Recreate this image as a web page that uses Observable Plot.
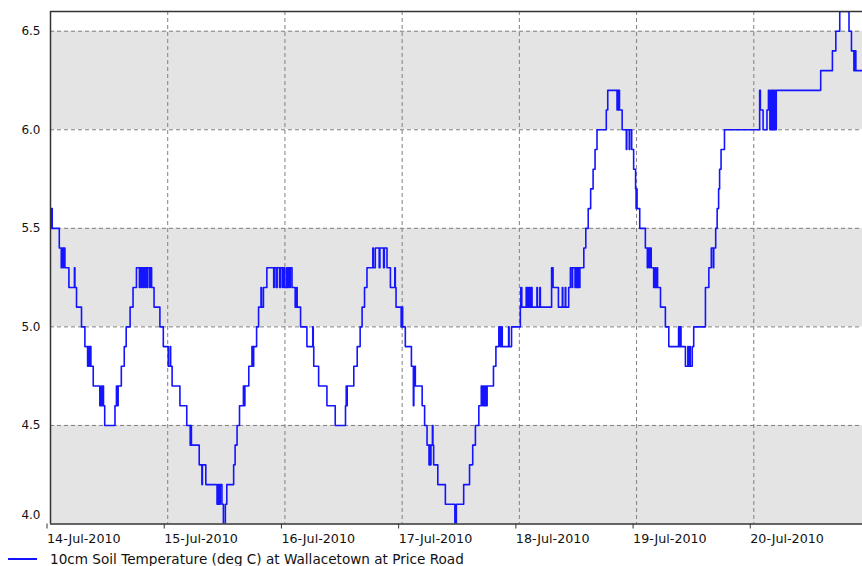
<!DOCTYPE html>
<html><head><meta charset="utf-8">
<script src="https://cdn.jsdelivr.net/npm/d3@7"></script>
<script src="https://cdn.jsdelivr.net/npm/@observablehq/plot@0.6"></script>
<style>
html,body{margin:0;padding:0;background:#fff;}
body{font-family:"DejaVu Sans",sans-serif;width:862px;}
#legend{position:relative;height:17px;width:862px;font-size:13.6px;color:#111;}
#legend .sw{position:absolute;left:8px;top:9px;width:29px;height:2px;background:#1414ff;}
#legend .lb{position:absolute;left:50px;top:2px;line-height:17px;white-space:nowrap;}
</style></head>
<body>
<div id="chart"></div>
<div id="legend"><span class="sw"></span><span class="lb" id="lb"></span></div>
<script>
// hours after 14-Jul-2010 00:00 at which the reading changes, and the reading (deg C)
const hoursSinceStart = [
0,0.1,0.2,0.35,1.8,2.2,2.35,2.6,2.7,2.95,3.77,4.9,5.0,5.33,6.35,7.04,7.6,7.75,8.0,8.1,8.27,8.75,
10.1,10.4,10.5,10.75,10.85,11.1,13.2,13.5,13.7,13.85,14.5,15.1,15.5,16.3,16.9,17.6,18.2,18.3,18.6,18.7,
19.0,19.1,19.4,19.5,19.8,19.9,20.3,20.4,20.7,21.2,22.4,23.1,24.1,24.5,24.6,24.9,26.5,27.9,28.6,28.7,28.85,
30.45,31.0,31.1,31.8,34.1,34.4,34.6,34.75,35.1,35.4,35.8,36.1,37.5,37.8,38.2,38.7,39.5,39.7,39.8,40.6,
41.25,41.5,41.6,42.2,42.6,43.1,43.2,43.6,44.3,45.7,45.8,46.2,46.4,46.9,47.1,47.5,47.6,47.9,48.3,48.5,48.7,
49.0,49.1,49.45,50.1,50.4,50.5,51.2,52.5,53.7,53.8,53.9,54.9,56.6,58.3,60.4,60.55,60.65,60.75,62.1,62.8,
63.4,63.8,64.3,64.8,66.0,66.1,66.5,67.3,67.45,68.2,68.35,68.9,69.6,70.5,70.6,70.75,71.8,72.0,72.1,72.65,
73.9,74.3,74.4,74.6,74.7,76.1,76.6,77.1,77.5,77.6,77.8,77.9,78.2,78.3,78.45,79.3,80.85,82.8,83.1,84.6,
85.8,86.45,87.0,87.7,88.2,88.5,88.7,88.9,89.1,89.25,89.4,90.7,91.2,91.8,92.1,92.4,92.5,93.8,93.9,94.4,
96.2,96.3,96.5,97.4,97.5,97.7,97.8,98.0,98.2,98.4,98.6,99.6,99.7,100.2,100.3,102.6,102.9,104.0,104.8,
104.9,105.4,105.5,106.1,106.45,106.8,106.9,107.4,107.5,107.7,107.8,108.0,108.1,108.3,108.4,109.2,109.6,
110.1,110.6,111.1,111.5,111.9,113.8,114.1,116.0,116.1,116.25,116.35,116.5,117.05,117.9,118.0,118.5,
118.6,119.0,119.4,119.8,119.9,120.0,120.1,120.65,121.8,122.2,122.3,122.6,122.7,123.0,123.5,123.8,123.9,
124.2,124.3,124.9,125.9,126.6,128.6,128.8,128.9,129.1,130.0,130.5,130.6,130.9,131.0,131.4,131.7,134.1,
134.8,135.3,135.7,135.8,136.2,136.5,136.8,137.0,137.3,138.0,145.2,145.35,145.9,146.7,147.0,147.3,147.6,
147.7,147.8,147.9,148.0,148.1,148.3,148.4,148.6,157.7,160.1,160.8,161.6,163.5,164.0,164.5,164.6,164.7,
164.8,164.9,166.3
];
const tempC = [
5.6,5.5,5.6,5.5,5.4,5.3,5.4,5.3,5.4,5.3,5.2,5.3,5.2,5.1,5.0,4.9,4.8,4.9,4.8,4.9,4.8,4.7,
4.6,4.7,4.6,4.7,4.6,4.5,4.6,4.7,4.6,4.7,4.8,4.9,5.0,5.1,5.2,5.3,5.2,5.3,5.2,5.3,
5.2,5.3,5.2,5.3,5.2,5.3,5.2,5.3,5.2,5.1,5.0,4.9,4.8,4.9,4.8,4.7,4.6,4.5,4.4,4.5,4.4,
4.3,4.2,4.3,4.2,4.1,4.2,4.1,4.2,4.1,4.0,4.1,4.2,4.3,4.4,4.5,4.6,4.7,4.6,4.7,4.8,
4.9,4.8,4.9,5.0,5.1,5.2,5.1,5.2,5.3,5.2,5.3,5.2,5.3,5.2,5.3,5.2,5.3,5.2,5.3,5.2,5.3,
5.2,5.3,5.2,5.1,5.2,5.1,5.0,4.9,5.0,4.9,4.8,4.7,4.6,4.5,4.6,4.7,4.6,4.7,4.8,4.9,
5.0,5.1,5.2,5.3,5.4,5.3,5.4,5.3,5.4,5.3,5.4,5.3,5.2,5.3,5.2,5.1,5.0,5.1,5.0,4.9,
4.8,4.6,4.7,4.8,4.7,4.6,4.5,4.4,4.3,4.4,4.3,4.4,4.5,4.4,4.3,4.2,4.1,4.0,4.1,4.2,
4.3,4.4,4.5,4.6,4.7,4.6,4.7,4.6,4.7,4.6,4.7,4.8,4.9,5.0,4.9,5.0,4.9,5.0,4.9,5.0,
5.1,5.2,5.1,5.2,5.1,5.2,5.1,5.2,5.1,5.2,5.1,5.2,5.1,5.2,5.1,5.3,5.2,5.1,5.2,
5.1,5.2,5.1,5.2,5.3,5.2,5.3,5.2,5.3,5.2,5.3,5.2,5.3,5.2,5.3,5.4,5.5,
5.6,5.7,5.8,5.9,6.0,6.1,6.2,6.1,6.2,6.1,6.2,6.1,6.0,5.9,6.0,5.9,
6.0,5.9,5.8,5.7,5.6,5.7,5.6,5.5,5.4,5.3,5.4,5.3,5.4,5.3,5.2,5.3,5.2,
5.3,5.2,5.1,5.0,4.9,5.0,4.9,5.0,4.9,4.8,4.9,4.8,4.9,4.8,4.9,5.0,5.2,
5.3,5.4,5.3,5.4,5.5,5.6,5.7,5.8,5.9,6.0,6.2,6.1,6.0,6.1,6.2,6.0,6.2,
6.0,6.2,6.0,6.2,6.0,6.2,6.0,6.2,6.3,6.4,6.5,6.6,6.5,6.4,6.3,6.4,6.3,
6.4,6.3,6.3
];
const dayLabels = ["14-Jul-2010","15-Jul-2010","16-Jul-2010","17-Jul-2010","18-Jul-2010","19-Jul-2010","20-Jul-2010"];
const yTicks = [4.0, 4.5, 5.0, 5.5, 6.0, 6.5];
const bandLows = [4.0, 5.0, 6.0];
const bandHighs = [4.5, 5.5, 6.5];
const seriesName = "10cm Soil Temperature (deg C) at Wallacetown at Price Road";
const yDomain = [4.0, 6.6];
const endHours = 166.26;

const start = Date.UTC(2010, 6, 14);
const data = hoursSinceStart.map((h, i) => ({t: new Date(start + h * 3600e3), v: tempC[i]}));
const days = dayLabels.map((_, i) => new Date(start + i * 86400e3));
const bands = bandLows.map((lo, i) => ({lo, hi: bandHighs[i]}));
const xDomain = [new Date(start), new Date(start + endHours * 3600e3)];
const labelOf = d => dayLabels[days.findIndex(t => +t === +d)];

const grid = {stroke: "#808080", strokeOpacity: 1, strokeDasharray: "4,3", strokeWidth: 1};

const chart = Plot.plot({
  width: 862, height: 549,
  marginLeft: 50, marginRight: 0, marginTop: 11, marginBottom: 25.5,
  x: {type: "utc", domain: xDomain},
  y: {domain: yDomain},
  style: {fontFamily: "DejaVu Sans", fontSize: "12px", color: "#111", background: "#fff", overflow: "visible"},
  marks: [
    Plot.rect(bands, {y1: "lo", y2: "hi", fill: "#e4e4e4"}),
    Plot.gridY(yTicks.slice(1), grid),
    Plot.gridX(days.slice(1), grid),
    Plot.lineY(data, {x: "t", y: "v", curve: "step-after", stroke: "#1414ff", strokeWidth: 1.6, clip: true}),
    Plot.ruleY([yDomain[1]], {stroke: "#333", strokeWidth: 1.5}),
    Plot.ruleY([yDomain[0]], {stroke: "#333", strokeWidth: 1.5}),
    Plot.ruleX([xDomain[0]], {stroke: "#333", strokeWidth: 1.5}),
    Plot.axisX(days, {tickSize: 5, tickPadding: 5, textAnchor: "start", dx: -3.5, fontSize: 12.7, tickFormat: labelOf, label: null, stroke: "#333"}),
    Plot.axisY(yTicks.slice(1), {tickSize: 0, tickPadding: 10, tickFormat: d => d.toFixed(1), label: null}),
    Plot.text([yTicks[0]], {y: d => d, text: d => d.toFixed(1), frameAnchor: "left", textAnchor: "end", dx: -10, dy: -9})
  ]
});
document.getElementById("chart").appendChild(chart);
document.getElementById("lb").textContent = seriesName;
</script>
</body></html>
